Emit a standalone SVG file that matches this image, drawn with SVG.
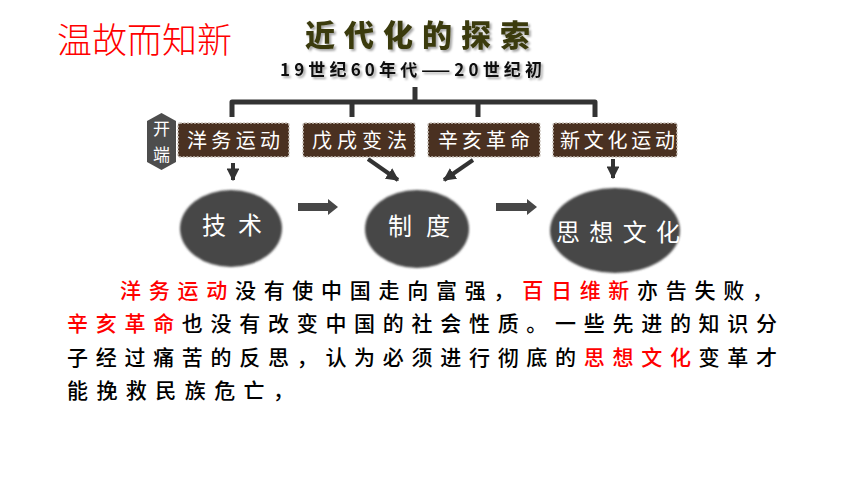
<svg xmlns="http://www.w3.org/2000/svg" width="860" height="484" viewBox="0 0 860 484">
<defs>
<style>
.cjk{font-family:"Noto Sans CJK SC","Noto Sans",sans-serif;}
.box{fill:#4a3121;stroke:#c9c2bb;stroke-width:1.5;stroke-dasharray:2 1.5;}
.btxt{fill:#ffffff;font-size:20px;}
.ell{fill:#474747;}
.etxt{fill:#ffffff;font-size:24px;}
.conn{stroke:#333333;stroke-width:4;fill:none;}
.brk{stroke:#333333;stroke-width:5;fill:none;stroke-linejoin:round;}
.para{font-size:21px;fill:#000000;font-weight:500;}
.red{fill:#ff0000;}
</style>
<marker id="ah" viewBox="0 0 10 10" refX="9" refY="5" markerWidth="3.2" markerHeight="3.2" orient="auto" markerUnits="strokeWidth">
<path d="M0,0 L10,5 L0,10 z" fill="#333333"/>
</marker>
<filter id="sh" x="-5%" y="-20%" width="115%" height="150%">
<feDropShadow dx="2" dy="2" stdDeviation="1.2" flood-color="#000000" flood-opacity="0.35"/>
</filter>
<filter id="soft" x="-10%" y="-10%" width="120%" height="120%">
<feGaussianBlur stdDeviation="0.8"/>
</filter>
</defs>
<rect width="860" height="484" fill="#ffffff"/>

<text class="cjk" x="57" y="52.5" font-size="35" font-weight="300" fill="#ff0000" textLength="175" lengthAdjust="spacing">温故而知新</text>

<g id="title">
<text class="cjk" x="305" y="46" font-size="30" font-weight="900" fill="#3b3b10" filter="url(#sh)" textLength="225" lengthAdjust="spacing">近代化的探索</text>
<text class="cjk" x="280" y="76" font-size="17" font-weight="bold" fill="#111111" filter="url(#sh)" textLength="262" lengthAdjust="spacing">19世纪60年代——20世纪初</text>
</g>

<g id="connectors">
<path class="brk" d="M415,87 V102 M232,117 V102 H595 V117 M352,102 V117 M478,102 V117"/>
<line class="conn" x1="233" y1="163" x2="233" y2="180" marker-end="url(#ah)"/>
<line class="conn" x1="368" y1="159" x2="398" y2="180" marker-end="url(#ah)"/>
<line class="conn" x1="473" y1="160" x2="444" y2="180" marker-end="url(#ah)"/>
<line class="conn" x1="613" y1="159" x2="613" y2="178" marker-end="url(#ah)"/>
<path d="M298,203 H328 V199 L338,207 L328,215 V211 H298 Z" fill="#474747"/>
<path d="M496,203 H527 V199 L537,207 L527,215 V211 H496 Z" fill="#474747"/>
</g>

<g id="kaiduan">
<polygon points="161.5,113 176,121 176,162 161.5,170 147,162 147,121" fill="#4d4d4d"/>
<text class="cjk" x="161.5" y="135" font-size="17" fill="#ffffff" text-anchor="middle">开</text>
<text class="cjk" x="161.5" y="161" font-size="17" fill="#ffffff" text-anchor="middle">端</text>
</g>

<g id="yangwu">
<rect class="box" x="178" y="123" width="111" height="34" rx="2"/>
<text class="cjk btxt" x="187" y="147.5" textLength="93" lengthAdjust="spacing">洋务运动</text>
</g>
<g id="wuxu">
<rect class="box" x="303" y="123" width="112" height="34" rx="2"/>
<text class="cjk btxt" x="312" y="147.5" textLength="95" lengthAdjust="spacing">戊戌变法</text>
</g>
<g id="xinhai">
<rect class="box" x="428" y="123" width="112" height="34" rx="2"/>
<text class="cjk btxt" x="438" y="147.5" textLength="92" lengthAdjust="spacing">辛亥革命</text>
</g>
<g id="xinwenhua">
<rect class="box" x="553" y="123" width="124" height="34" rx="2"/>
<text class="cjk btxt" x="560" y="147.5" textLength="115" lengthAdjust="spacing">新文化运动</text>
</g>

<g id="jishu">
<ellipse class="ell" cx="231" cy="228.5" rx="51" ry="38.5" filter="url(#soft)"/>
<text class="cjk etxt" x="202" y="234" textLength="60" lengthAdjust="spacing">技术</text>
</g>
<g id="zhidu">
<ellipse class="ell" cx="417" cy="229" rx="52" ry="39" filter="url(#soft)"/>
<text class="cjk etxt" x="388" y="235" textLength="62" lengthAdjust="spacing">制度</text>
</g>
<g id="sixiang">
<ellipse class="ell" cx="615" cy="230.5" rx="65" ry="42.5" filter="url(#soft)"/>
<text class="cjk etxt" x="556" y="241" font-size="25" textLength="124" lengthAdjust="spacing">思想文化</text>
</g>

<g id="paragraph" class="cjk para">
<text x="120" y="298" textLength="653" lengthAdjust="spacing"><tspan class="red">洋务运动</tspan>没有使中国走向富强，<tspan class="red">百日维新</tspan>亦告失败，</text>
<text x="67" y="331" textLength="710" lengthAdjust="spacing"><tspan class="red">辛亥革命</tspan>也没有改变中国的社会性质。一些先进的知识分</text>
<text x="67" y="365" textLength="710" lengthAdjust="spacing">子经过痛苦的反思，认为必须进行彻底的<tspan class="red">思想文化</tspan>变革才</text>
<text x="67" y="398" textLength="227" lengthAdjust="spacing">能挽救民族危亡，</text>
</g>
</svg>
